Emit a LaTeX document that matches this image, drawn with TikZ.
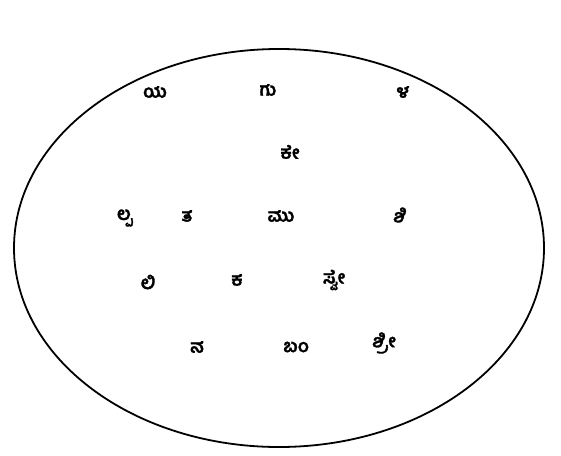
\documentclass[tikz,border=0pt]{standalone}
\usepackage{fontspec}
\usetikzlibrary{shapes.geometric}
\newfontfamily\kn[Script=Kannada,FakeBold=1.6]{Hind Mysuru}
\begin{document}
\begin{tikzpicture}[x=1pt,y=-1pt,
  ch/.style={font=\kn\bfseries\fontsize{18}{20}\selectfont, inner sep=0pt}]
\useasboundingbox (0,0) rectangle (561,455);
\node[draw, line width=1.8pt, ellipse, minimum width=530pt, minimum height=398pt, inner sep=0pt] (e) at (279,248) {};
\node[ch] (a1) at (155,92) {ಯ};
\node[ch] (a2) at (268,90) {ಗು};
\node[ch] (a3) at (403,92) {ಳ};
\node[ch] (b1) at (290,152) {ಕೇ};
\node[ch] (c1) at (125,218) {ಲ್ಪ};
\node[ch] (c2) at (187,216) {ತ};
\node[ch] (c3) at (281,216) {ಮು};
\node[ch] (c4) at (400,215) {ಶಿ};
\node[ch] (d1) at (148,282) {ಲಿ};
\node[ch] (d2) at (237,280) {ಕ};
\node[ch] (d3) at (334,280) {ಸ್ವೇ};
\node[ch] (f1) at (197,347) {ನ};
\node[ch] (f2) at (296,347) {ಬಂ};
\node[ch] (f3) at (384,343) {ಶ್ರೀ};
\end{tikzpicture}
\end{document}
